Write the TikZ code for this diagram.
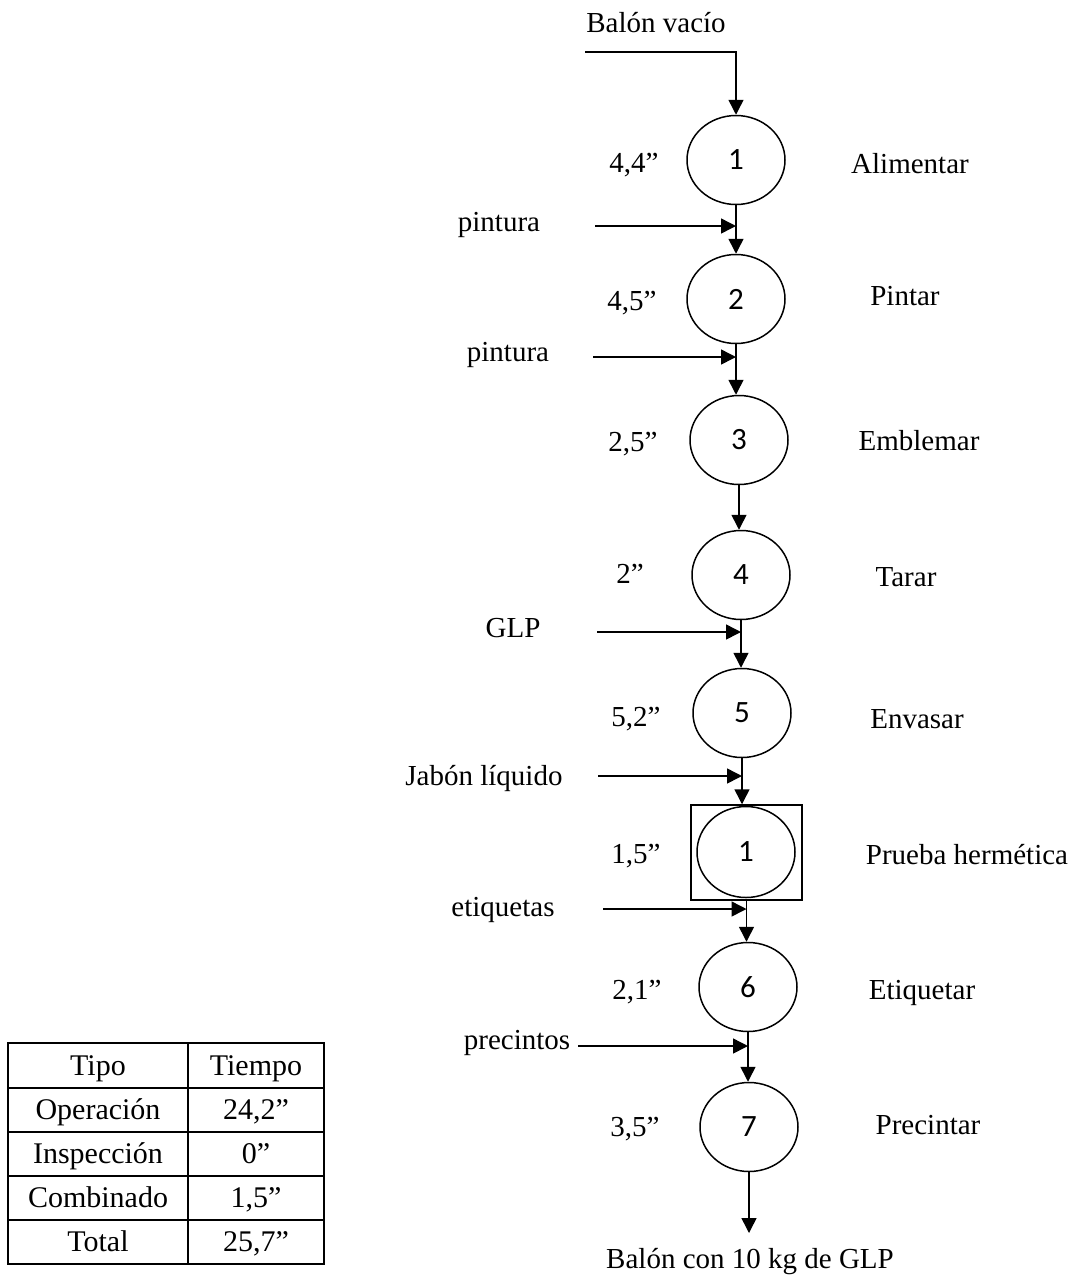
\documentclass[tikz,border=0pt]{standalone}
\usepackage{fontspec}
\setmainfont{Liberation Serif}
\newfontfamily\numfont{Carlito}
\usetikzlibrary{shapes.geometric,arrows.meta}
\begin{document}
\begin{tikzpicture}[x=1pt,y=-1pt,
  op/.style={draw,line width=1.5pt,ellipse,minimum width=98pt,minimum height=89pt,inner sep=0pt,font=\numfont\fontsize{31}{34}\selectfont},
  boxst/.style={draw,line width=1.5pt,rectangle,minimum width=111pt,minimum height=95pt,inner sep=0pt},
  lbl/.style={font=\fontsize{29}{34}\selectfont,inner sep=0pt,text height=20pt,text depth=6pt},
  tbl/.style={font=\fontsize{30}{34}\selectfont,inner sep=0pt,anchor=base},
  flow/.style={line width=1.5pt,-{Triangle[length=15pt,width=15pt]}},
  ln/.style={line width=1.5pt}]
\useasboundingbox (0,0) rectangle (1073,1278);

% operations
\node[op] (c1) at (736,160) {1};
\node[op] (c2) at (736,299) {2};
\node[op] (c3) at (739,440) {3};
\node[op] (c4) at (741,575) {4};
\node[op] (c5) at (742,713) {5};
\node[boxst] (cb) at (746.5,852.5) {};
\node[op,minimum height=91pt] (cc) at (746,852) {1};
\node[op] (c6) at (748,987) {6};
\node[op] (c7) at (749,1127) {7};

% time labels
\node[lbl] (t1) at (634,165) {4,4”};
\node[lbl] (t2) at (632,303) {4,5”};
\node[lbl] (t3) at (633,444) {2,5”};
\node[lbl] (t4) at (630,576) {2”};
\node[lbl] (t5) at (636,719) {5,2”};
\node[lbl] (t6) at (636,856) {1,5”};
\node[lbl] (t7) at (637,992) {2,1”};
\node[lbl] (t8) at (635,1129) {3,5”};

% activity labels
\node[lbl] (a1) at (910,166) {Alimentar};
\node[lbl] (a2) at (905,298) {Pintar};
\node[lbl] (a3) at (919,443) {Emblemar};
\node[lbl] (a4) at (906,579) {Tarar};
\node[lbl] (a5) at (917,721) {Envasar};
\node[lbl] (a6) at (967,857) {Prueba hermética};
\node[lbl] (a7) at (922,992) {Etiquetar};
\node[lbl] (a8) at (928,1127) {Precintar};

% input labels
\node[lbl] (in0) at (656,25) {Balón vacío};
\node[lbl] (in1) at (499,224) {pintura};
\node[lbl] (in2) at (508,354) {pintura};
\node[lbl] (in4) at (513,630) {GLP};
\node[lbl] (in5) at (484,778) {Jabón líquido};
\node[lbl] (in6) at (503,909) {etiquetas};
\node[lbl] (in7) at (517,1042) {precintos};
\node[lbl] (out) at (750,1261) {Balón con 10 kg de GLP};

% free ends of input arrows
\coordinate (s0) at (585,52);
\coordinate (s1) at (595,226);
\coordinate (s2) at (593,357);
\coordinate (s4) at (597,632);
\coordinate (s5) at (598,776);
\coordinate (s6) at (603,909);
\coordinate (s7) at (578,1046);
\coordinate (e7) at (749,1233);

% main flow
\draw[flow] (s0) -| (c1.north);
\draw[flow] (c1.south) -- (c1.south |- c2.north);
\draw[flow] (c2.south) -- (c2.south |- c3.north);
\draw[flow] (c3.south) -- (c3.south |- c4.north);
\draw[flow] (c4.south) -- (c4.south |- c5.north);
\draw[flow] (c5.south) -- (c5.south |- cb.north);
\draw[flow] (cb.south) -- (cb.south |- c6.north);
\draw[flow] (c6.south) -- (c6.south |- c7.north);
\draw[flow] (c7.south) -- (e7);

% input arrows
\draw[flow] (s1) -- (s1 -| c1.south);
\draw[flow] (s2) -- (s2 -| c2.south);
\draw[flow] (s4) -- (s4 -| c4.south);
\draw[flow] (s5) -- (s5 -| c5.south);
\draw[flow] (s6) -- (s6 -| cb.south);
\draw[flow] (s7) -- (s7 -| c6.south);

% table
\draw[ln] (8,1043) rectangle (324,1264);
\draw[ln] (188,1043) -- (188,1264);
\foreach \yy in {1088,1132,1176,1220} \draw[ln] (8,\yy) -- (324,\yy);
\node[tbl] (h1) at (98,1075) {Tipo};
\node[tbl] (h2) at (256,1075) {Tiempo};
\node[tbl] (r1a) at (98,1119) {Operación};
\node[tbl] (r1b) at (256,1119) {24,2”};
\node[tbl] (r2a) at (98,1163) {Inspección};
\node[tbl] (r2b) at (256,1163) {0”};
\node[tbl] (r3a) at (98,1207) {Combinado};
\node[tbl] (r3b) at (256,1207) {1,5”};
\node[tbl] (r4a) at (98,1251) {Total};
\node[tbl] (r4b) at (256,1251) {25,7”};
\end{tikzpicture}
\end{document}
